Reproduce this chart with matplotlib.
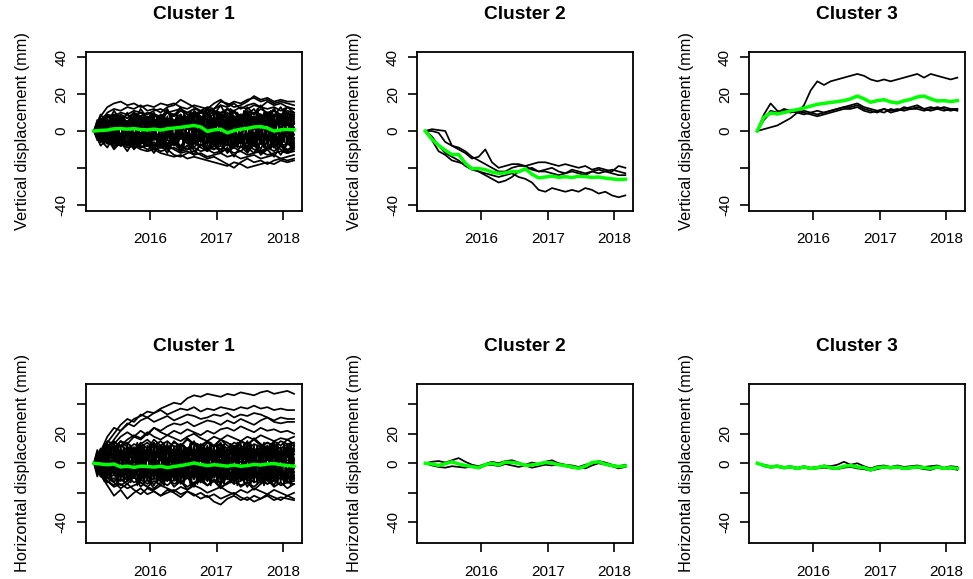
import numpy as np
import matplotlib.pyplot as plt

plt.rcParams['font.family'] = ['Liberation Sans', 'DejaVu Sans']

# acquisition period (decimal years), first and last date
t_start, t_end = 2015.154, 2018.165

# ---- vertical displacement (mm) ----
c1_vert_lines = [
    # outliers
    [0, 8, 13, 15, 16, 14, 15, 13, 14, 13, 15, 14, 15, 13, 12, 14, 13, 12, 15, 17, 14, 16, 15, 17, 18, 16, 17, 15, 16, 15, 14],
    [0, 5, 10, 12, 11, 13, 12, 14, 11, 12, 10, 13, 14, 17, 15, 13, 11, 10, 12, 16, 15, 13, 14, 16, 19, 17, 18, 16, 17, 16, 16],
    [0, 6, 9, 8, 10, 9, 11, 10, 9, 11, 12, 10, 11, 12, 10, 12, 11, 13, 12, 14, 13, 15, 12, 14, 15, 13, 16, 14, 15, 13, 12],
    [0, 4, 7, 9, 8, 7, 9, 8, 10, 9, 8, 10, 9, 11, 10, 9, 10, 12, 11, 10, 12, 11, 13, 12, 14, 13, 12, 13, 11, 13, 12],
    [0, -4, -6, -8, -7, -9, -8, -10, -11, -10, -12, -13, -14, -13, -15, -14, -15, -16, -17, -18, -19, -17, -18, -20, -19, -18, -17, -18, -16, -17, -16],
    [0, -3, -5, -6, -8, -7, -9, -8, -10, -9, -11, -10, -13, -14, -12, -11, -13, -15, -14, -16, -18, -20, -17, -15, -17, -16, -18, -16, -15, -16, -15],
    [0, -5, -4, -7, -6, -8, -7, -9, -8, -10, -9, -8, -10, -12, -11, -13, -12, -14, -13, -12, -14, -13, -15, -14, -13, -15, -14, -13, -15, -14, -13],
    [0, -2, -5, -4, -6, -5, -7, -6, -8, -7, -9, -10, -9, -11, -10, -9, -11, -10, -12, -11, -10, -12, -11, -13, -12, -11, -13, -12, -11, -12, -11],
    # core
    [0, 7, 2, 9, 4, 10, 3, 8, 1, 9, 5, 11, 3, 8, 2, 10, 6, 12, 4, 9, 3, 11, 5, 10, 2, 9, 4, 12, 6, 10, 5],
    [0, -6, -2, -9, -3, -8, -1, -7, -4, -10, -2, -8, -5, -11, -3, -9, -4, -10, -6, -12, -3, -8, -5, -11, -4, -10, -2, -9, -6, -11, -7],
    [0, 4, -3, 5, -2, 3, -5, 2, -4, 6, -1, 4, -6, 3, -2, 5, -4, 2, -6, 4, -3, 6, -2, 3, -5, 5, -3, 2, -4, 6, -2],
    [0, -1, 6, 0, 7, 1, 5, -2, 6, 2, 8, -1, 5, 1, 7, 0, 6, -2, 8, 1, 6, -1, 7, 3, 8, 0, 5, 2, 8, -1, 4],
    [0, 1, -6, 0, -7, -1, -5, 2, -6, -2, -8, 1, -5, -1, -7, 0, -6, 2, -8, -1, -6, 1, -7, -3, -8, 0, -5, -2, -8, 1, -4],
    [0, 9, 4, 11, 6, 9, 5, 12, 7, 10, 4, 11, 8, 13, 6, 10, 5, 12, 9, 14, 7, 11, 6, 13, 9, 14, 8, 12, 7, 13, 10],
    [0, -8, -4, -10, -6, -11, -5, -9, -7, -12, -6, -10, -5, -11, -8, -13, -7, -11, -6, -12, -9, -14, -8, -12, -7, -13, -10, -14, -8, -12, -9],
    [0, 5, 1, 7, 3, -1, 6, 2, 8, 4, 0, 7, 3, 9, 1, 6, 4, 10, 2, 7, 0, 8, 4, 9, 1, 6, 3, 9, 5, 1, 4],
    [0, -5, -1, -7, -3, 1, -6, -2, -8, -4, 0, -7, -3, -9, -1, -6, -4, -10, -2, -7, 0, -8, -4, -9, -1, -6, -3, -9, -5, -1, -4],
    [0, -2, 3, -1, 5, 0, 4, -3, 3, 1, 6, -2, 2, -1, 5, 1, -2, 4, 0, 6, -1, 3, 1, 5, -2, 4, 0, 6, 2, -1, 2],
    [0, 2, -3, 1, -5, 0, -4, 3, -3, -1, -6, 2, -2, 1, -5, -1, 2, -4, 0, -6, 1, -3, -1, -5, 2, -4, 0, -6, -2, 1, -2],
    [0, 6, 9, 3, 8, 5, 10, 6, 2, 9, 7, 12, 5, 9, 3, 11, 8, 5, 10, 6, 12, 8, 4, 9, 12, 6, 10, 8, 13, 7, 9],
    [0, -5, -9, -3, -8, -5, -10, -6, -2, -9, -7, -12, -5, -9, -3, -11, -8, -5, -10, -6, -12, -8, -4, -9, -12, -6, -10, -8, -13, -7, -9],
    [0, 3, 6, 4, 7, 5, 8, 6, 7, 5, 8, 6, 9, 7, 8, 10, 7, 9, 6, 8, 10, 7, 9, 8, 10, 9, 7, 9, 8, 10, 9],
    [0, -2, -4, -3, -5, -4, -6, -3, -5, -4, -6, -5, -7, -4, -6, -5, -8, -6, -7, -5, -8, -7, -9, -6, -8, -7, -9, -6, -8, -7, -8],
    [0, 5, 8, 6, 9, 7, 10, 8, 6, 9, 7, 10, 8, 11, 9, 7, 10, 8, 11, 9, 12, 10, 8, 11, 9, 12, 10, 11, 9, 11, 10],
    [0, -4, -7, -5, -8, -6, -9, -7, -5, -8, -6, -9, -7, -10, -8, -6, -9, -11, -8, -10, -7, -9, -11, -8, -10, -12, -9, -11, -8, -10, -9],
    [0, 4, 3, 8, 6, 4, 8, 10, 7, 5, 9, 6, 4, 8, 6, 9, 11, 8, 6, 9, 7, 11, 8, 10, 7, 5, 9, 11, 8, 6, 8],
    [0, -3, -2, -6, -8, -5, -7, -4, -8, -6, -9, -7, -5, -8, -10, -7, -5, -9, -10, -8, -11, -9, -6, -10, -8, -11, -9, -7, -10, -12, -10],
]
# densely sampled series that make up the solid centre of the band
c1_vert_dense = [
    [0, 5, -4, 6, -5, 7, -3, 6, -6, 5, -4, 7, -5, 6, -6, 8, -4, 7, -5, 6, -7, 8, -5, 6, -6, 7, -4, 8, -6, 7, -5, 9, -6, 7, -7, 8, -5, 9, -7, 6, -8, 9, -6, 8, -7, 9, -5, 8, -8, 9, -6, 8, -7, 10, -6, 8, -8, 9, -7, 8, -6],
    [0, -4, 5, -6, 6, -4, 7, -5, 6, -7, 5, -6, 8, -4, 7, -6, 6, -5, 8, -7, 6, -5, 7, -8, 6, -6, 8, -5, 7, -7, 9, -6, 8, -5, 7, -8, 9, -6, 8, -7, 9, -8, 7, -6, 9, -8, 10, -7, 8, -6, 9, -8, 10, -7, 9, -8, 8, -6, 9, -7, 8],
    [0, 2, -6, 4, -3, 7, -5, 3, -7, 6, -2, 8, -6, 4, -4, 7, -7, 5, -3, 8, -6, 3, -5, 7, -8, 5, -4, 9, -6, 4, -7, 8, -5, 6, -8, 7, -4, 9, -7, 5, -6, 8, -9, 6, -5, 10, -7, 5, -8, 7, -6, 9, -8, 6, -9, 8, -5, 10, -7, 6, -8],
    [0, -2, 6, -3, 4, -7, 5, -2, 7, -5, 3, -7, 6, -3, 5, -8, 4, -4, 7, -6, 3, -7, 8, -4, 6, -5, 4, -8, 7, -5, 6, -7, 4, -6, 8, -5, 7, -8, 5, -6, 9, -4, 7, -8, 6, -7, 8, -9, 6, -5, 8, -7, 9, -6, 7, -9, 8, -6, 10, -8, 7],
    [0, 6, 1, 8, 2, 7, 0, 9, 3, 6, -1, 8, 2, 9, 1, 7, 3, 10, 0, 8, 2, 9, -1, 7, 3, 10, 1, 8, 4, 11, 2, 9, 0, 10, 3, 8, 1, 11, 4, 9, 2, 12, 3, 10, 1, 11, 4, 9, 2, 12, 3, 10, 5, 11, 2, 9, 4, 12, 3, 10, 4],
    [0, -5, -1, -7, -2, -6, 0, -8, -3, -6, 1, -7, -2, -8, -1, -6, -3, -9, 0, -7, -2, -8, 1, -6, -3, -9, -1, -7, -4, -10, -2, -8, 0, -9, -3, -7, -1, -10, -4, -8, -2, -11, -3, -9, -1, -10, -4, -8, -2, -11, -3, -9, -5, -10, -2, -8, -4, -11, -3, -9, -4],
]
c1_vert_mean = [0, 0.3, 0.5, 1.2, 1.3, 1.0, 1.3, 0.8, 0.6, 1.0, 0.5, 1.2, 1.6, 2.0, 2.5, 3.0,
                2.2, -0.2, 0.6, 1.0, -1.0, 0.2, 1.0, 1.4, 2.2, 2.4, 1.6, 0.0, 0.6, 0.9, 0.6]

c2_vert_lines = [
    [0, 1, 0.5, 0, -8, -10, -12, -15, -14, -10, -17, -20, -19, -18, -18, -19, -18, -17, -17, -18, -19, -18, -19, -20, -19, -21, -20, -21, -22, -19, -20],
    [0, 0, -1, -6, -8, -9, -11, -14, -16, -18, -20, -22, -22, -20, -19, -19, -21, -22, -21, -20, -22, -23, -21, -22, -23, -22, -21, -22, -23, -24, -24],
    [0, -3, -8, -12, -14, -16, -19, -21, -22, -24, -26, -28, -27, -25, -22, -21, -20, -22, -22, -23, -24, -23, -22, -23, -24, -22, -23, -22, -21, -22, -23],
    [0, -5, -11, -13, -16, -17, -18, -20, -22, -23, -24, -25, -24, -23, -25, -26, -28, -32, -33, -31, -32, -33, -32, -33, -31, -32, -34, -33, -35, -36, -35],
]
c2_vert_mean = [0, -4.5, -7.8, -10.5, -12.8, -12.8, -17.5, -20.5, -20.4, -21.0, -22.3, -23.0, -22.8, -22.0, -22.2, -20.5,
                -23.5, -25.5, -25.0, -24.5, -25.2, -24.8, -25.3, -24.6, -24.8, -25.2, -25.0, -25.6, -26.0, -26.4, -26.2]

c3_vert_lines = [
    [0, 1, 2, 3, 5, 7, 10, 14, 22, 27, 25, 27, 28, 29, 30, 31, 30, 28, 27, 28, 27, 28, 29, 30, 31, 29, 31, 30, 29, 28, 29],
    [0, 9, 15, 11, 10, 11, 10, 11, 10, 11, 10, 11, 12, 13, 14, 15, 13, 12, 11, 12, 10, 11, 12, 13, 14, 12, 13, 12, 13, 12, 12],
    [0, 7, 11, 10, 12, 11, 10, 9, 10, 9, 10, 11, 12, 13, 13, 14, 12, 11, 10, 12, 11, 12, 11, 12, 13, 12, 11, 12, 11, 12, 11],
    [0, 6, 10, 9, 11, 10, 11, 10, 9, 8, 9, 10, 11, 12, 12, 13, 11, 10, 11, 10, 12, 11, 13, 12, 12, 11, 12, 13, 12, 11, 12],
]
c3_vert_mean = [0, 7.5, 9.8, 9.3, 10, 11, 11.6, 12.5, 13.5, 14.5, 15, 15.5, 16, 16.5, 17.5, 19,
                17.5, 15.6, 16.5, 17, 15.8, 15.2, 16.4, 17.2, 18.5, 19, 17.5, 16.3, 16.5, 16, 16.5]

# ---- horizontal displacement (mm) ----
c1_horiz_lines = [
    # outliers
    [0, 4, 10, 16, 22, 26, 30, 32, 35, 34, 37, 39, 41, 40, 44, 46, 45, 47, 46, 45, 47, 46, 48, 47, 46, 48, 49, 47, 48, 49, 47],
    [0, 6, 14, 20, 26, 30, 28, 33, 31, 34, 36, 33, 35, 37, 36, 38, 35, 37, 36, 38, 37, 36, 38, 37, 39, 37, 38, 36, 37, 36, 36],
    [0, 8, 18, 24, 22, 27, 25, 29, 31, 28, 30, 32, 29, 31, 33, 32, 30, 31, 33, 32, 34, 31, 33, 32, 34, 33, 31, 29, 31, 30, 30],
    [0, 5, 12, 10, 15, 13, 18, 16, 20, 24, 22, 25, 27, 26, 28, 25, 27, 29, 28, 26, 29, 27, 30, 28, 26, 29, 31, 28, 27, 28, 28],
    [0, 7, 15, 13, 18, 21, 18, 22, 19, 24, 21, 19, 22, 20, 23, 21, 19, 22, 20, 23, 24, 22, 25, 23, 21, 24, 22, 23, 21, 22, 20],
    [0, 4, 9, 14, 12, 16, 19, 17, 21, 18, 16, 19, 17, 15, 18, 20, 17, 15, 18, 16, 19, 17, 15, 18, 16, 19, 17, 15, 17, 16, 18],
    [0, -8, -15, -22, -18, -24, -20, -17, -21, -19, -22, -18, -20, -23, -19, -21, -24, -22, -26, -28, -24, -22, -25, -23, -26, -24, -22, -25, -23, -24, -25],
    [0, -5, -10, -13, -17, -14, -18, -21, -17, -19, -22, -20, -18, -21, -19, -22, -20, -23, -21, -24, -22, -20, -23, -25, -22, -24, -21, -23, -25, -22, -24],
    [0, -6, -12, -16, -14, -17, -15, -13, -16, -18, -15, -17, -19, -16, -18, -15, -17, -20, -18, -16, -19, -21, -18, -20, -17, -19, -21, -18, -20, -22, -20],
    # core
    [0, 6, -5, 8, -3, 7, -6, 4, -8, 5, -2, 9, -4, 6, -7, 3, -5, 8, -3, 6, -8, 4, -2, 9, -5, 7, -4, 5, -7, 8, -3],
    [0, 10, 4, 13, 6, 11, 3, 12, 7, 14, 5, 10, 2, 13, 8, 15, 4, 11, 6, 14, 3, 12, 7, 15, 5, 11, 8, 14, 4, 12, 9],
    [0, -9, -4, -13, -6, -12, -3, -11, -8, -15, -5, -10, -3, -14, -8, -16, -5, -12, -6, -15, -4, -12, -8, -16, -6, -11, -9, -15, -5, -13, -10],
    [0, 2, 8, 0, 9, 3, 10, -1, 7, 4, 11, 1, 8, -2, 9, 5, 12, 2, 7, 0, 10, 4, 11, 1, 8, 3, 12, 0, 9, 5, 6],
    [0, -2, -8, 0, -9, -3, -10, 1, -7, -4, -11, -1, -8, 2, -9, -5, -12, -2, -7, 0, -10, -4, -11, -1, -8, -3, -12, 0, -9, -5, -6],
    [0, 8, 13, 9, 15, 11, 7, 14, 10, 16, 12, 8, 15, 11, 17, 13, 9, 14, 11, 16, 12, 9, 15, 12, 17, 13, 10, 15, 12, 16, 13],
    [0, -8, -13, -10, -15, -12, -8, -16, -11, -17, -13, -9, -16, -12, -18, -14, -10, -15, -12, -17, -13, -10, -16, -13, -18, -14, -11, -16, -13, -17, -14],
    [0, -4, 5, -6, 3, -7, 6, -3, 7, -5, 4, -8, 2, -6, 7, -4, 5, -7, 3, -5, 8, -3, 6, -6, 4, -8, 5, -3, 7, -5, 2],
    [0, 3, 9, 2, 7, 4, 10, 1, 8, 5, 11, 3, 6, 9, 2, 10, 5, 8, 3, 11, 6, 1, 9, 4, 10, 7, 2, 9, 5, 11, 6],
    [0, -3, -9, -2, -7, -4, -10, -1, -8, -5, -11, -3, -6, -9, -2, -10, -5, -8, -3, -11, -6, -1, -9, -4, -10, -7, -2, -9, -5, -11, -6],
    [0, 6, 10, 8, 12, 9, 13, 11, 14, 10, 12, 15, 11, 13, 10, 14, 12, 15, 11, 13, 10, 14, 12, 9, 13, 11, 14, 12, 10, 13, 12],
    [0, -6, -10, -8, -12, -9, -13, -11, -14, -10, -12, -15, -11, -13, -10, -14, -12, -15, -11, -13, -10, -14, -12, -9, -13, -11, -14, -12, -10, -13, -12],
    [0, 2, -1, 3, 0, -3, 1, -2, 2, -1, 3, 0, -2, 1, 4, 0, -3, 1, -1, 2, -2, 1, 3, -1, 0, 2, -2, 1, -1, 2, 0],
    [0, 7, 12, 15, 11, 14, 9, 13, 16, 12, 15, 10, 14, 12, 16, 13, 11, 15, 12, 16, 14, 11, 15, 13, 16, 12, 14, 11, 15, 13, 14],
    [0, -7, -12, -15, -11, -14, -9, -13, -16, -12, -15, -10, -14, -12, -16, -13, -11, -15, -12, -16, -14, -11, -15, -13, -16, -12, -14, -11, -15, -13, -14],
    [0, 3, 8, 5, 2, 9, 6, 10, 7, 4, 8, 12, 8, 5, 9, 6, 11, 8, 4, 9, 6, 10, 7, 12, 9, 5, 8, 11, 7, 10, 8],
    [0, -3, -8, -5, -2, -9, -6, -10, -7, -4, -8, -12, -8, -5, -9, -6, -11, -8, -4, -9, -6, -10, -7, -12, -9, -5, -8, -11, -7, -10, -8],
    [0, 1, -2, 0, 2, -1, -4, 0, 3, 1, -2, 2, -1, -3, 1, -1, 2, 0, -3, 1, 3, -1, 1, -2, 2, 0, -3, 1, 2, -1, 1],
    [0, 4, 1, -2, 3, 6, 2, -1, 3, 7, 2, -1, 4, 1, 5, 2, -2, 3, 6, 2, 0, 4, 1, 5, 2, -1, 3, 6, 2, 0, 3],
    [0, -4, -1, 2, -3, -6, -2, 1, -3, -7, -2, 1, -4, -1, -5, -2, 2, -3, -6, -2, 0, -4, -1, -5, -2, 1, -3, -6, -2, 0, -3],
]
c1_horiz_dense = [
    [0, 8, -7, 10, -9, 11, -8, 12, -10, 9, -11, 12, -9, 13, -12, 10, -10, 13, -11, 12, -13, 11, -9, 13, -12, 10, -13, 12, -10, 14, -11, 12, -13, 11, -12, 13, -10, 14, -13, 12, -11, 13, -14, 11, -12, 14, -10, 13, -13, 12, -14, 11, -12, 13, -11, 14, -13, 12, -12, 13, -11],
    [0, -7, 9, -10, 11, -8, 12, -11, 10, -9, 13, -12, 11, -10, 12, -13, 10, -11, 13, -12, 11, -10, 14, -13, 12, -11, 13, -12, 10, -14, 12, -11, 13, -10, 12, -13, 11, -14, 13, -12, 10, -13, 12, -11, 14, -12, 11, -13, 12, -14, 13, -11, 12, -13, 14, -12, 11, -14, 13, -12, 12],
    [0, 4, -9, 7, -5, 11, -8, 5, -11, 9, -4, 12, -10, 6, -7, 11, -12, 8, -5, 13, -9, 6, -12, 10, -6, 12, -11, 7, -8, 13, -10, 5, -13, 11, -7, 12, -9, 8, -12, 10, -6, 13, -11, 7, -9, 12, -13, 9, -7, 11, -10, 13, -8, 6, -12, 11, -9, 13, -11, 8, -10],
    [0, -4, 9, -7, 5, -11, 8, -5, 11, -9, 4, -12, 10, -6, 7, -11, 12, -8, 5, -13, 9, -6, 12, -10, 6, -12, 11, -7, 8, -13, 10, -5, 13, -11, 7, -12, 9, -8, 12, -10, 6, -13, 11, -7, 9, -12, 13, -9, 7, -11, 10, -13, 8, -6, 12, -11, 9, -13, 11, -8, 10],
    [0, 9, 2, 12, 4, 10, 0, 13, 3, 11, -1, 12, 5, 14, 2, 11, 4, 13, 1, 12, 3, 14, 0, 11, 5, 13, 2, 12, 4, 14, 1, 13, 3, 12, 5, 14, 2, 11, 4, 13, 0, 12, 3, 14, 5, 12, 1, 13, 4, 11, 2, 14, 3, 12, 5, 13, 1, 12, 4, 14, 3],
    [0, -9, -2, -12, -4, -11, 0, -14, -3, -12, 1, -13, -5, -15, -2, -12, -4, -14, -1, -13, -3, -15, 0, -12, -5, -14, -2, -13, -4, -15, -1, -14, -3, -13, -5, -15, -2, -12, -4, -14, 0, -13, -3, -15, -5, -13, -1, -14, -4, -12, -2, -15, -3, -13, -5, -14, -1, -13, -4, -15, -3],
]
c1_horiz_mean = [0, -0.5, -1.0, -0.5, -2.5, -2.0, -2.8, -2.0, -2.2, -2.6, -2.0, -3.0, -2.2, -1.6, -0.8, 0.2,
                 -0.8, -1.6, -1.0, -1.4, -2.0, -1.2, -2.0, -1.6, -0.8, -1.2, -0.5, -0.2, -1.0, -1.5, -2.0]

c2_horiz_lines = [
    [0, 1, 1.5, 0.5, 2, 3.5, 1, -1, -2, -0.5, 1, 0, 1.5, 2, 0.5, -1, 0.5, -0.5, 1, 2, 0, -1, -1.5, -2.5, -1, 0, 1.5, 0.5, -1, -2, -1],
    [0, -1.5, -2.5, -3, -2, -2.5, -3, -2, -3.5, -1.5, -1, -2, -0.5, -1.5, -2.5, -1.5, -3, -2, -1, -1.5, -0.5, -2, -3, -2.5, -3.5, -1.5, 0, -1, -2, -3.5, -2.5],
]
c2_horiz_mean = [0, -0.5, -1.5, -0.3, 1.0, -0.5, -1.5, -2.3, -3, -1, 0, -1.2, 0.8, 0.5, 0, -1.5,
                 -1.2, -0.5, 0.5, 0.2, -1, -1.6, -2.5, -3.5, -2, 0.5, 1.0, -0.6, -1.6, -2.3, -1.8]

c3_horiz_lines = [
    [0, -1, -2, -1.5, -2.5, -2, -3, -2, -3, -2.5, -1.5, -2, -1, 1, -1, 0, -2, -3.5, -2, -1.5, -2.5, -1.5, -2.5, -2, -1.5, -2.5, -2, -1.5, -3, -2, -2.5],
    [0, -2, -3, -2.5, -3.5, -3, -4, -3, -4, -3.5, -3, -3.5, -4, -3, -2.5, -3.5, -4, -5, -4, -3, -3.5, -3, -4, -3.5, -3, -4, -4.5, -3, -4, -3.5, -4.5],
]
c3_horiz_mean = [0, -1.5, -2.5, -2, -3, -2.5, -3.5, -2.5, -3.5, -3, -2, -3, -3.5, -2, -1.5, -2.5,
                 -3, -4.5, -3, -2.5, -3, -2.5, -3.5, -3, -2.5, -3, -3.5, -2.5, -3.5, -3, -3.5]

titles = ['Cluster 1', 'Cluster 2', 'Cluster 3']
year_ticks = [2016, 2017, 2018]
vert_yticks = [40, 20, 0, -20, -40]
vert_ylabels = ['40', '20', '0', '', '-40']
horiz_yticks = [40, 20, 0, -20, -40]
horiz_ylabels = ['', '20', '0', '', '-40']

W, H = 973, 579
fig = plt.figure(figsize=(W / 100, H / 100), dpi=100)

col_left = [86, 417.3, 749.3]
box_w = 216
rows = [(51.5, 210.5), (383.5, 543)]


def draw_panel(ax, lines, mean, ylim, yticks, ylabels, title, ylabel):
    for y in lines:
        ax.plot(np.linspace(t_start, t_end, len(y)), y, color='black', lw=1.25)
    ax.plot(np.linspace(t_start, t_end, len(mean)), mean, color='#00ff00', lw=2.5)
    ax.set_xlim(2015.034, 2018.285)
    ax.set_ylim(*ylim)
    ax.set_xticks(year_ticks)
    ax.set_xticklabels([str(y) for y in year_ticks])
    ax.set_yticks(yticks)
    ax.set_yticklabels(ylabels, rotation=90, va='center')
    ax.tick_params(axis='both', direction='out', length=6.5, width=1.2, labelsize=11, color='black')
    ax.tick_params(axis='x', pad=9)
    ax.tick_params(axis='y', pad=6)
    for s in ax.spines.values():
        s.set_linewidth(1.3)
    h = ax.get_position().height * H
    ax.text(0.5, 1 + 37 / h, title, transform=ax.transAxes, ha='center', va='center',
            fontsize=13.8, fontweight='bold')
    ax.text(-63 / box_w, 0.5, ylabel, transform=ax.transAxes, rotation=90,
            ha='center', va='center', fontsize=11.8)


vert_data = [(c1_vert_dense + c1_vert_lines, c1_vert_mean),
             (c2_vert_lines, c2_vert_mean),
             (c3_vert_lines, c3_vert_mean)]
horiz_data = [(c1_horiz_dense + c1_horiz_lines, c1_horiz_mean),
              (c2_horiz_lines, c2_horiz_mean),
              (c3_horiz_lines, c3_horiz_mean)]

for r, (top, bottom) in enumerate(rows):
    for c in range(3):
        ax = fig.add_axes([col_left[c] / W, 1 - bottom / H, box_w / W, (bottom - top) / H])
        if r == 0:
            lines, mean = vert_data[c]
            draw_panel(ax, lines, mean, (-43.2, 43.2), vert_yticks, vert_ylabels,
                       titles[c], 'Vertical displacement (mm)')
        else:
            lines, mean = horiz_data[c]
            draw_panel(ax, lines, mean, (-54, 54), horiz_yticks, horiz_ylabels,
                       titles[c], 'Horizontal displacement (mm)')

fig.savefig('out.png', dpi=100)
